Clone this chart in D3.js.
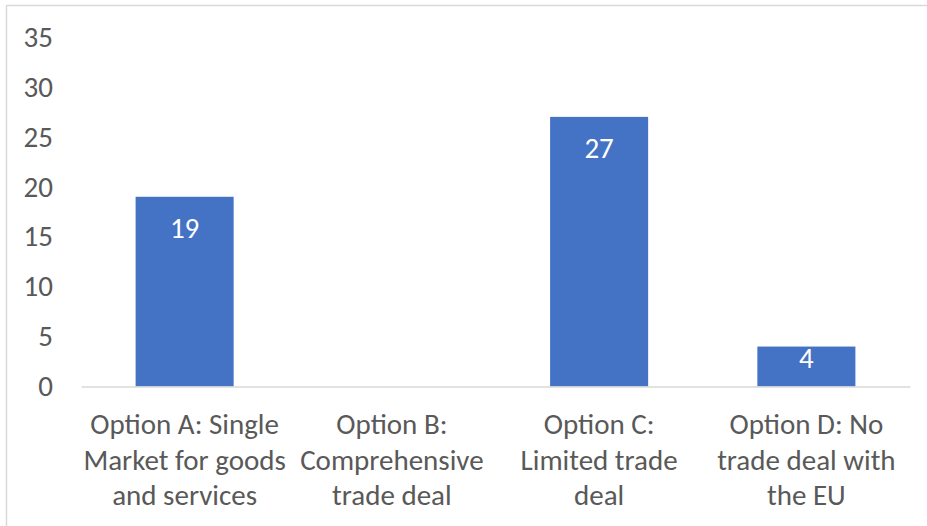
<!DOCTYPE html>
<html>
<head>
<meta charset="utf-8">
<script src="https://cdn.jsdelivr.net/npm/d3@7"></script>
<style>
  html, body { margin: 0; padding: 0; background: #fff; }
  svg { display: block; }
  text { font-family: Calibri, Carlito, Lato, "Open Sans", sans-serif; }
</style>
</head>
<body>
<svg id="chart" width="927" height="526"></svg>
<script>
// Preferred Brexit option counts
const categories = [
  ["Option A: Single", "Market for goods", "and services"],
  ["Option B:", "Comprehensive", "trade deal"],
  ["Option C:", "Limited trade", "deal"],
  ["Option D: No", "trade deal with", "the EU"]
];
const values = [19, 0, 27, 4];
const yTicks = [0, 5, 10, 15, 20, 25, 30, 35];

const W = 927, H = 526;
const margin = { left: 81, right: 17, top: 37, bottom: 140 };
const fontSize = 29;
const lineGap = 35.5;
const textColor = "#595959";
const barColor = "#4472C4";
const lineColor = "#D9D9D9";
const fontStack = "Calibri, Carlito, Lato, 'Open Sans', sans-serif";

const svg = d3.select("#chart");

// chart area frame (top and left edges visible)
svg.append("rect")
  .attr("x", 6.5).attr("y", 5.5)
  .attr("width", W + 20).attr("height", H + 20)
  .attr("fill", "none")
  .attr("stroke", lineColor)
  .attr("stroke-width", 1.5);

const keys = categories.map((c, i) => i);

const x = d3.scaleBand()
  .domain(keys)
  .range([margin.left, W - margin.right])
  .paddingInner(0.527)
  .paddingOuter(0.2635);

const y = d3.scaleLinear()
  .domain([0, 35])
  .range([H - margin.bottom + 0.5, margin.top]);

// y axis labels (no axis line, no ticks)
const yAxis = d3.axisLeft(y)
  .tickValues(yTicks)
  .tickSize(0)
  .tickPadding(0);

svg.append("g")
  .attr("transform", `translate(53,0)`)
  .call(yAxis)
  .call(g => g.select(".domain").remove())
  .call(g => g.selectAll("text")
    .attr("fill", textColor)
    .style("font-size", fontSize + "px")
    .style("font-family", fontStack));

// bars
svg.append("g")
  .selectAll("rect")
  .data(values)
  .join("rect")
  .attr("x", (d, i) => x(i))
  .attr("width", x.bandwidth())
  .attr("y", d => y(d))
  .attr("height", d => y(0) - y(d))
  .attr("fill", barColor);

// baseline
const xAxis = d3.axisBottom(x).tickSize(0).tickFormat("");
svg.append("g")
  .attr("transform", `translate(0,${y(0)})`)
  .call(xAxis)
  .call(g => g.select(".domain")
    .attr("stroke", lineColor)
    .attr("stroke-width", 1.5));

// category labels, three lines each
const catG = svg.append("g");
categories.forEach((lines, i) => {
  const cx = x(i) + x.bandwidth() / 2;
  const t = catG.append("text")
    .attr("x", cx)
    .attr("y", 434)
    .attr("text-anchor", "middle")
    .attr("fill", textColor)
    .style("font-size", fontSize + "px");
  lines.forEach((ln, j) => {
    t.append("tspan")
      .attr("x", cx)
      .attr("dy", j === 0 ? 0 : lineGap)
      .text(ln);
  });
});

// value labels inside bars near the top, kept above the baseline on short bars
svg.append("g")
  .selectAll("text")
  .data(values.map((v, i) => ({ v, i })).filter(d => d.v > 0))
  .join("text")
  .attr("x", d => x(d.i) + x.bandwidth() / 2)
  .attr("y", d => Math.min(y(d.v) + 31, y(0) - 29))
  .attr("dy", "0.35em")
  .attr("text-anchor", "middle")
  .attr("fill", "#ffffff")
  .style("font-size", fontSize + "px")
  .text(d => d.v);
</script>
</body>
</html>
